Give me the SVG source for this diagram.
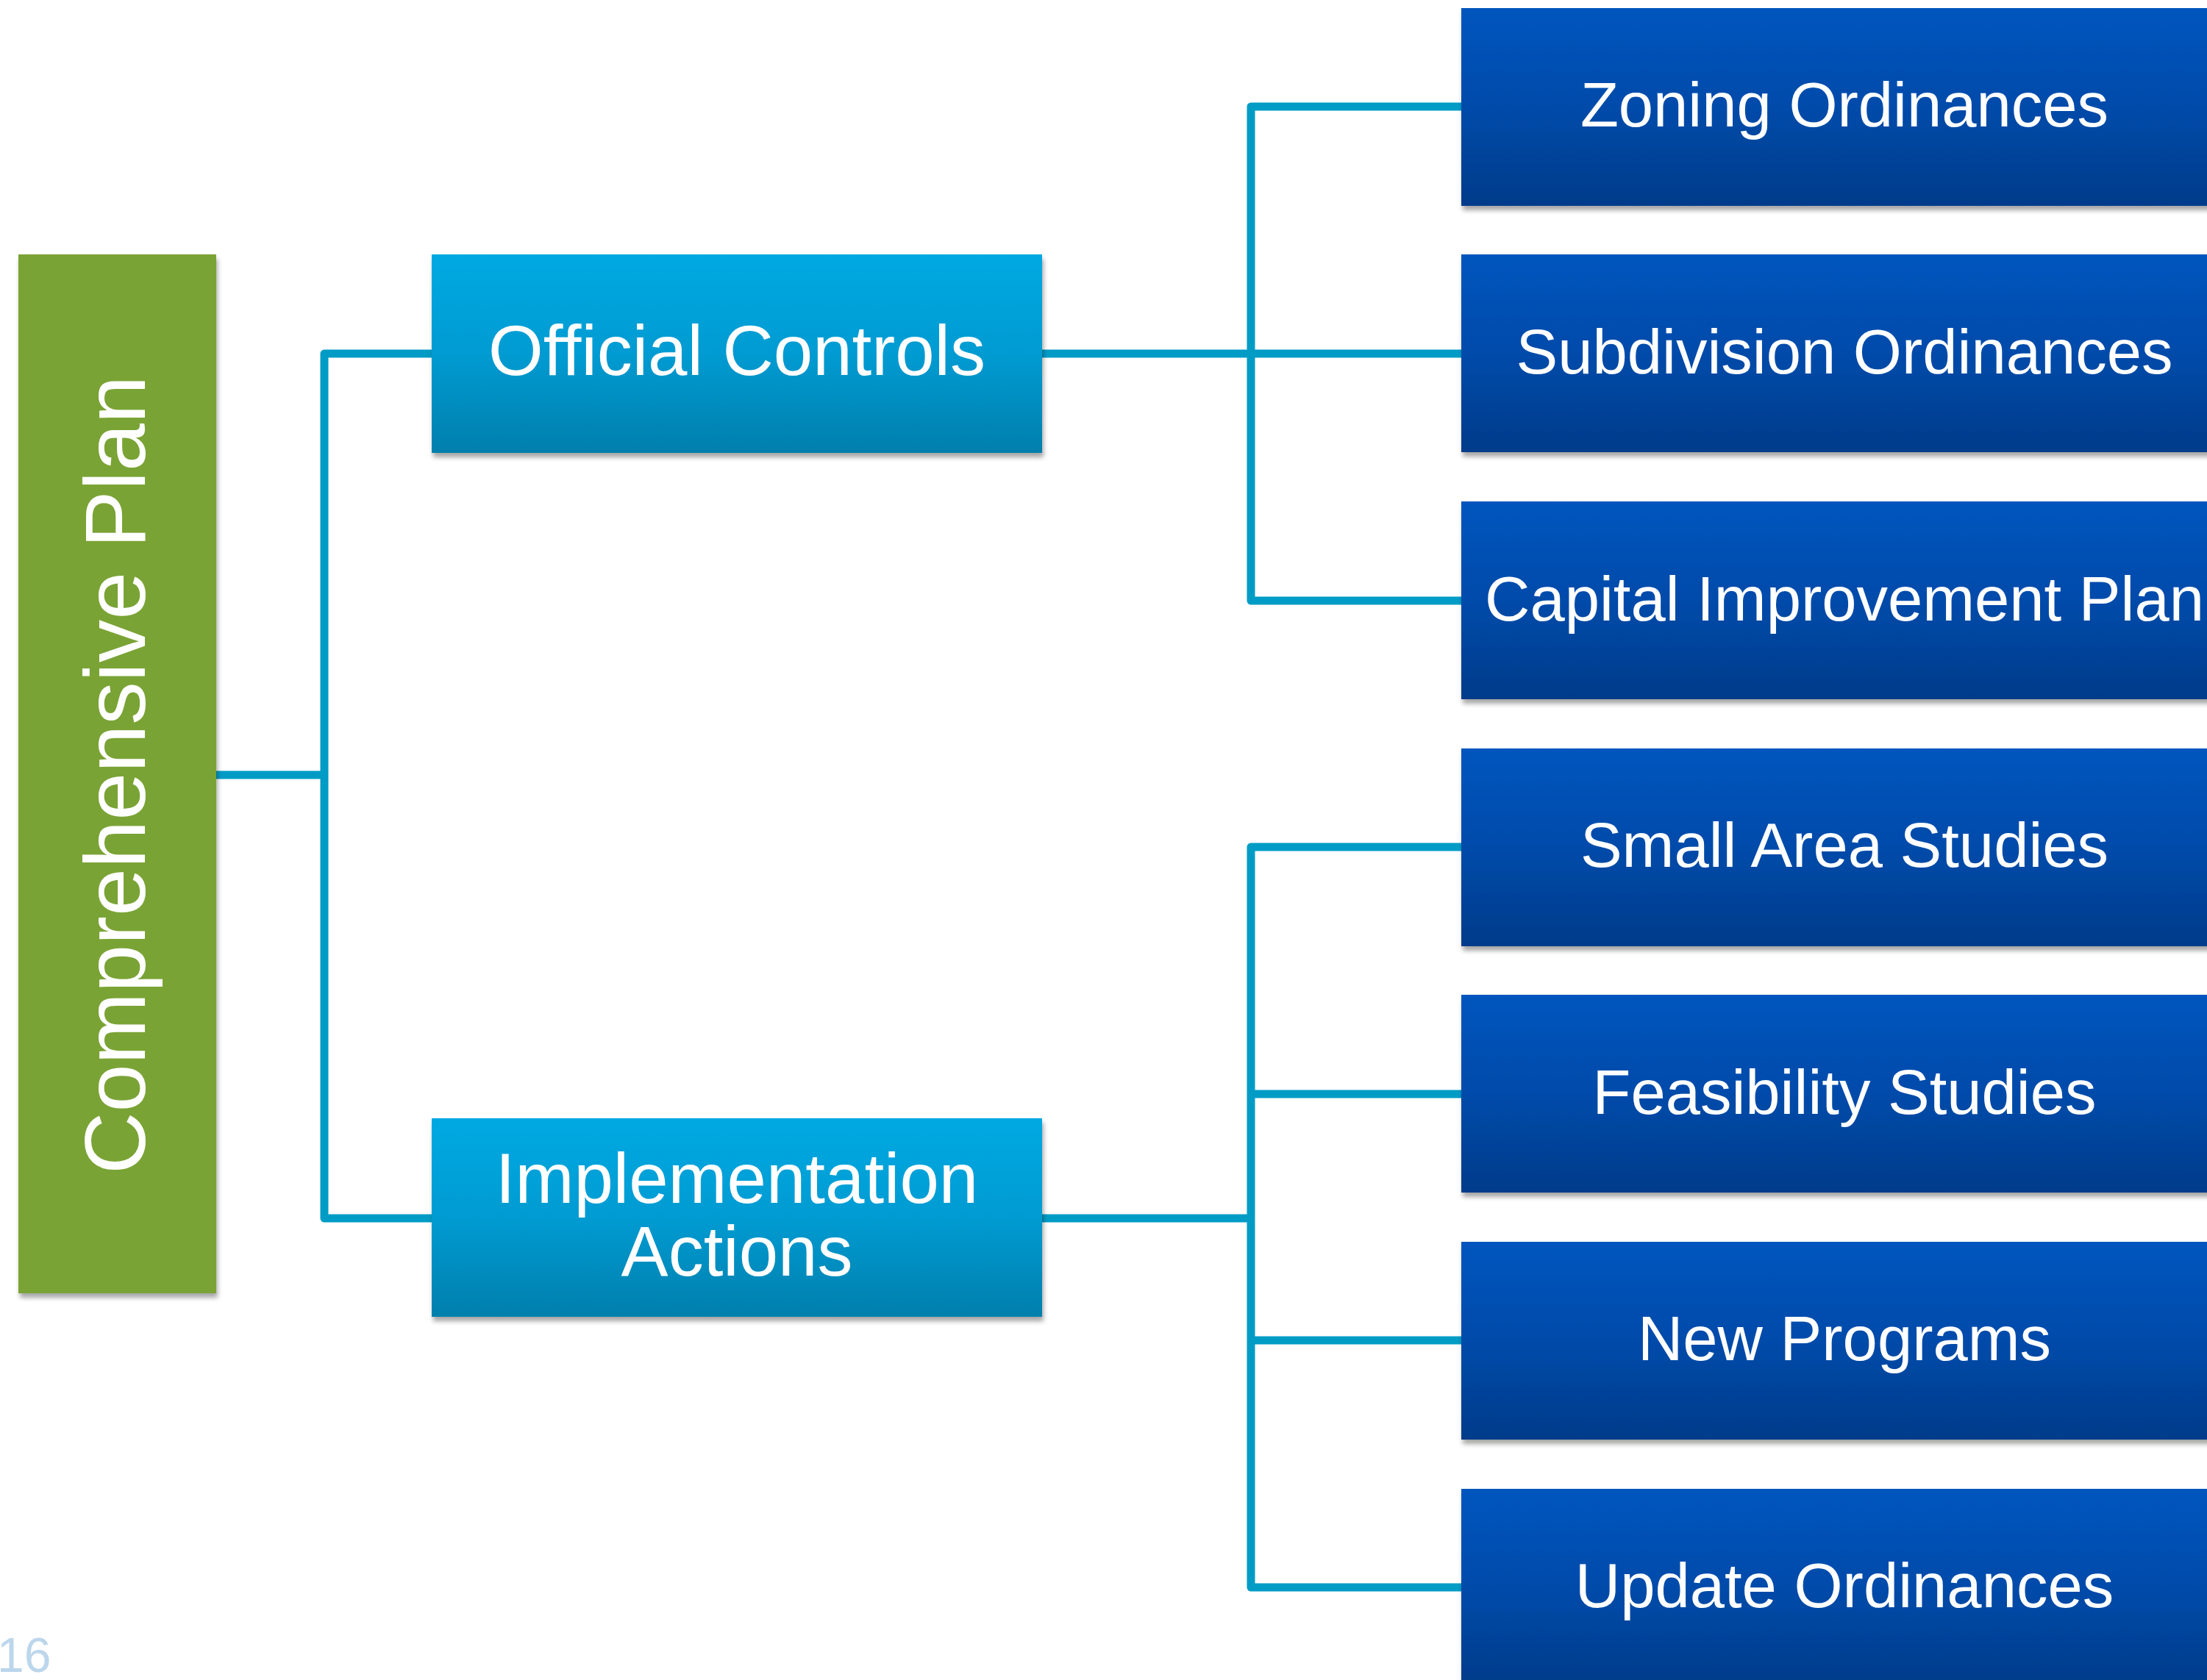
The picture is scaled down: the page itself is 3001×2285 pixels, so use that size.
<svg xmlns="http://www.w3.org/2000/svg" width="3001" height="2285" viewBox="0 0 3001 2285">
  <defs>
    <linearGradient id="gLight" x1="0" y1="0" x2="0" y2="1">
      <stop offset="0" stop-color="#00A9E2"/>
      <stop offset="0.5" stop-color="#009BD2"/>
      <stop offset="1" stop-color="#007FAC"/>
    </linearGradient>
    <linearGradient id="gDark" x1="0" y1="0" x2="0" y2="1">
      <stop offset="0" stop-color="#0055BE"/>
      <stop offset="0.5" stop-color="#004BAA"/>
      <stop offset="1" stop-color="#003B8A"/>
    </linearGradient>
    <filter id="shadow" x="-5%" y="-5%" width="110%" height="115%">
      <feGaussianBlur in="SourceAlpha" stdDeviation="3"/>
      <feOffset dx="2" dy="6" result="b"/>
      <feComponentTransfer><feFuncA type="linear" slope="0.35"/></feComponentTransfer>
      <feMerge><feMergeNode/><feMergeNode in="SourceGraphic"/></feMerge>
    </filter>
  </defs>
  <style>
    .conn { fill: none; stroke: #009CC6; stroke-width: 11; stroke-linejoin: round; stroke-linecap: butt; }
    .lbl { font-family: "Liberation Sans", Arial, sans-serif; fill: #FFFFFF; text-anchor: middle; }
    .mid { font-size: 96px; }
    .right { font-size: 85px; }
    .green { fill: #7AA334; filter: url(#shadow); }
    .light { fill: url(#gLight); filter: url(#shadow); }
    .dark { fill: url(#gDark); filter: url(#shadow); }
  </style>
  <rect width="3001" height="2285" fill="#FFFFFF"/>

  <g id="connectors">
    <path class="conn" d="M294 1054 H441"/>
    <path class="conn" d="M587 481 H441 V1657 H587"/>
    <path class="conn" d="M1417 481 H1987"/>
    <path class="conn" d="M1987 145 H1701 V817 H1987"/>
    <path class="conn" d="M1417 1657 H1701"/>
    <path class="conn" d="M1987 1152 H1701 V2159 H1987"/>
    <path class="conn" d="M1701 1488 H1987"/>
    <path class="conn" d="M1701 1823 H1987"/>
  </g>

  <g id="node-comprehensive-plan">
    <rect class="green" x="25" y="346" width="269" height="1413"/>
    <text class="lbl" font-size="117" transform="translate(197,1054) rotate(-90)">Comprehensive Plan</text>
  </g>

  <g id="node-official-controls">
    <rect class="light" x="587" y="346" width="830" height="270"/>
    <text class="lbl mid" x="1002" y="510">Official Controls</text>
  </g>

  <g id="node-implementation-actions">
    <rect class="light" x="587" y="1521" width="830" height="270"/>
    <text class="lbl mid" x="1002" y="1636">Implementation</text>
    <text class="lbl mid" x="1002" y="1735">Actions</text>
  </g>

  <g id="node-zoning-ordinances">
    <rect class="dark" x="1987" y="11" width="1050" height="269"/>
    <text class="lbl right" x="2508" y="172">Zoning Ordinances</text>
  </g>
  <g id="node-subdivision-ordinances">
    <rect class="dark" x="1987" y="346" width="1050" height="269"/>
    <text class="lbl right" x="2508" y="508">Subdivision Ordinances</text>
  </g>
  <g id="node-capital-improvement-plan">
    <rect class="dark" x="1987" y="682" width="1050" height="269"/>
    <text class="lbl right" x="2508" y="844">Capital Improvement Plan</text>
  </g>
  <g id="node-small-area-studies">
    <rect class="dark" x="1987" y="1018" width="1050" height="269"/>
    <text class="lbl right" x="2508" y="1179">Small Area Studies</text>
  </g>
  <g id="node-feasibility-studies">
    <rect class="dark" x="1987" y="1353" width="1050" height="269"/>
    <text class="lbl right" x="2508" y="1515">Feasibility Studies</text>
  </g>
  <g id="node-new-programs">
    <rect class="dark" x="1987" y="1689" width="1050" height="269"/>
    <text class="lbl right" x="2508" y="1850">New Programs</text>
  </g>
  <g id="node-update-ordinances">
    <rect class="dark" x="1987" y="2025" width="1050" height="269"/>
    <text class="lbl right" x="2508" y="2186">Update Ordinances</text>
  </g>

  <text x="-4" y="2274" font-family="Liberation Sans, Arial, sans-serif" font-size="66" fill="#BCD6EC">16</text>
</svg>
